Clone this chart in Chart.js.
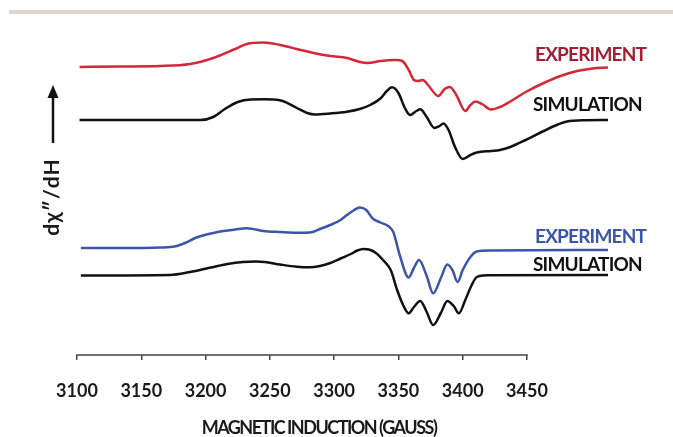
<!DOCTYPE html>
<html>
<head>
<meta charset="utf-8">
<title>EPR spectra</title>
<script src="https://cdn.jsdelivr.net/npm/chart.js@4.4.1/dist/chart.umd.min.js"></script>
<style>
  html, body { margin: 0; padding: 0; background: #fff; }
  canvas { display: block; }
</style>
</head>
<body>
<canvas id="eprChart" width="673" height="437"></canvas>
<script>
// --- Data (field in gauss, signal in arbitrary units) ---
const xTicks = [3100, 3150, 3200, 3250, 3300, 3350, 3400, 3450];

const redExpField = [3102, 3133, 3165, 3188, 3206, 3223, 3232, 3245, 3258, 3274, 3284, 3297, 3310, 3320, 3326, 3336, 3348, 3353, 3358, 3362, 3365, 3369, 3373, 3381, 3386, 3390, 3395, 3402, 3406, 3410, 3415, 3422, 3429, 3437, 3449, 3463, 3476, 3489, 3501, 3513];
const redExpSignal = [288, 288.5, 289, 291, 297, 306, 311, 312.5, 310, 305, 302, 299, 297, 293, 292, 294, 295, 294, 285, 275, 274, 275, 270, 259, 266, 268, 260, 244, 250, 253.5, 251, 245.5, 248, 253.5, 263, 272, 279, 284, 286.5, 287.5];

const topSimField = [3102, 3196, 3206, 3215, 3225, 3235, 3245, 3253, 3260, 3271, 3279, 3285, 3297, 3310, 3320, 3328, 3336, 3341, 3345, 3350, 3355, 3359, 3364, 3367, 3372, 3378, 3382, 3385, 3389, 3394, 3400, 3406, 3411, 3422, 3429, 3437, 3449, 3463, 3474, 3481, 3495, 3513];
const topSimSignal = [235, 235, 238, 246, 253, 255.5, 255.7, 255.5, 254, 247, 242, 240.5, 241.5, 243.3, 246, 250, 256.5, 264, 267.7, 262, 247, 240, 244, 245.7, 238, 227, 229, 231.5, 225, 208, 196, 200, 202.5, 204, 205, 208, 215, 224, 230.5, 233.5, 234.8, 235];

const blueExpField = [3103, 3133, 3165, 3176, 3184, 3192, 3198, 3206, 3214, 3223, 3232, 3239, 3245, 3258, 3271, 3281, 3289, 3297, 3305, 3310, 3315, 3320, 3325, 3330, 3336, 3342, 3346, 3351, 3358, 3362, 3366, 3372, 3377, 3383, 3388, 3392, 3396, 3400, 3406, 3411, 3422, 3513];
const blueExpSignal = [107, 107, 107.5, 108.5, 112, 117, 119.5, 122, 124, 125.5, 126.7, 125.5, 124, 123, 122.3, 122.5, 126, 130, 135, 140, 144.5, 147.5, 145, 136.5, 132.5, 129, 123, 100, 77.5, 87, 95, 79, 61.7, 77, 90.5, 85, 73, 85, 98, 103.5, 104.5, 105];

const bottomSimField = [3103, 3172, 3188, 3204, 3217, 3229, 3239, 3246, 3258, 3271, 3281, 3289, 3297, 3305, 3313, 3318, 3323, 3327, 3332, 3338, 3344, 3349, 3354, 3358, 3362, 3367, 3372, 3377, 3383, 3388, 3393, 3397, 3402, 3407, 3411, 3419, 3513];
const bottomSimSignal = [79.5, 80, 83, 87.5, 91, 93, 93.5, 93, 90.5, 88.3, 87.7, 89, 92, 96.5, 101, 104.5, 106, 105.5, 102.5, 95, 85, 65, 49, 41.7, 48, 54, 43, 30, 42, 54, 49, 41.7, 55, 70, 78, 79.7, 80];

const curveLabels = ['EXPERIMENT', 'SIMULATION', 'EXPERIMENT', 'SIMULATION'];
const curveColors = ['#d3283a', '#111111', '#3b55a8', '#111111'];
const labelColors = ['#a31d33', '#111111', '#3b55a8', '#111111'];

const toPoints = (xs, ys) => xs.map((x, i) => ({ x: x, y: ys[i] }));

const seriesList = [
    toPoints(redExpField, redExpSignal),
    toPoints(topSimField, topSimSignal),
    toPoints(blueExpField, blueExpSignal),
    toPoints(bottomSimField, bottomSimSignal)
];

// --- Extra drawing: top rule, axis line, curve labels, axis titles ---
const decorPlugin = {
    id: 'decor',
    beforeDraw(chart) {
        const ctx = chart.ctx;
        ctx.save();
        ctx.fillStyle = '#ddd8cb';
        ctx.fillRect(9, 10, 664, 4);
        ctx.restore();
    },
    afterDraw(chart) {
        const ctx = chart.ctx;
        const xs = chart.scales.x;
        const area = chart.chartArea;
        ctx.save();

        // x axis line, only across the ticked range
        ctx.strokeStyle = '#444';
        ctx.lineWidth = 1.5;
        ctx.beginPath();
        ctx.moveTo(xs.getPixelForValue(xTicks[0]) - 0.75, area.bottom);
        ctx.lineTo(xs.getPixelForValue(xTicks[xTicks.length - 1]) + 0.75, area.bottom);
        ctx.stroke();

        // labels next to each curve
        const labelY = [60.5, 111, 242.5, 271];
        const labelX = [535, 533, 535, 533];
        ctx.font = 'bold 19px Lato';
        ctx.letterSpacing = '-0.8px';
        ctx.textBaseline = 'alphabetic';
        ctx.textAlign = 'left';
        curveLabels.forEach((txt, i) => {
            ctx.fillStyle = labelColors[i];
            ctx.fillText(txt, labelX[i], labelY[i]);
        });

        // x axis title
        ctx.fillStyle = '#1a1a1a';
        ctx.font = 'bold 18px Lato';
        ctx.letterSpacing = '-1.5px';
        ctx.textAlign = 'center';
        ctx.fillText('MAGNETIC INDUCTION (GAUSS)', 319, 434);

        // y axis title with arrow
        ctx.translate(52, 197);
        ctx.rotate(-Math.PI / 2);
        ctx.font = 'bold 21px Lato';
        ctx.letterSpacing = '1px';
        ctx.textBaseline = 'middle';
        ctx.fillText('dχ″/dH', 0, 0);
        ctx.restore();

        ctx.save();
        ctx.strokeStyle = '#111';
        ctx.fillStyle = '#111';
        ctx.lineWidth = 2.5;
        ctx.beginPath();
        ctx.moveTo(53, 143);
        ctx.lineTo(53, 96);
        ctx.stroke();
        ctx.beginPath();
        ctx.moveTo(53, 85);
        ctx.lineTo(58.5, 98);
        ctx.lineTo(47.5, 98);
        ctx.closePath();
        ctx.fill();
        ctx.restore();
    }
};

const ctx = document.getElementById('eprChart').getContext('2d');
const eprChart = new Chart(ctx, {
    type: 'line',
    data: {
        datasets: seriesList.map((pts, i) => ({
            label: curveLabels[i],
            data: pts,
            borderColor: curveColors[i],
            borderWidth: 2.5,
            pointRadius: 0,
            fill: false,
            cubicInterpolationMode: 'monotone'
        }))
    },
    options: {
        responsive: false,
        animation: false,
        layout: { padding: { left: 77, right: 56, top: 0, bottom: 0 } },
        plugins: { legend: { display: false }, tooltip: { enabled: false } },
        scales: {
            x: {
                type: 'linear',
                min: 3100,
                max: 3520,
                afterBuildTicks: (scale) => { scale.ticks = xTicks.map(v => ({ value: v })); },
                afterFit: (scale) => { scale.height = 82; },  // keeps the axis line at y = 355
                border: { display: false },
                grid: { drawOnChartArea: false, drawTicks: true, tickLength: 5, color: '#444', lineWidth: 1.5 },
                ticks: {
                    color: '#1a1a1a',
                    padding: 20,
                    maxRotation: 0,
                    font: { family: 'Lato', size: 18, weight: 'bold' },
                    callback: (v) => String(v)
                }
            },
            y: { display: false, min: 0, max: 355 }
        }
    },
    plugins: [decorPlugin]
});
</script>
</body>
</html>
